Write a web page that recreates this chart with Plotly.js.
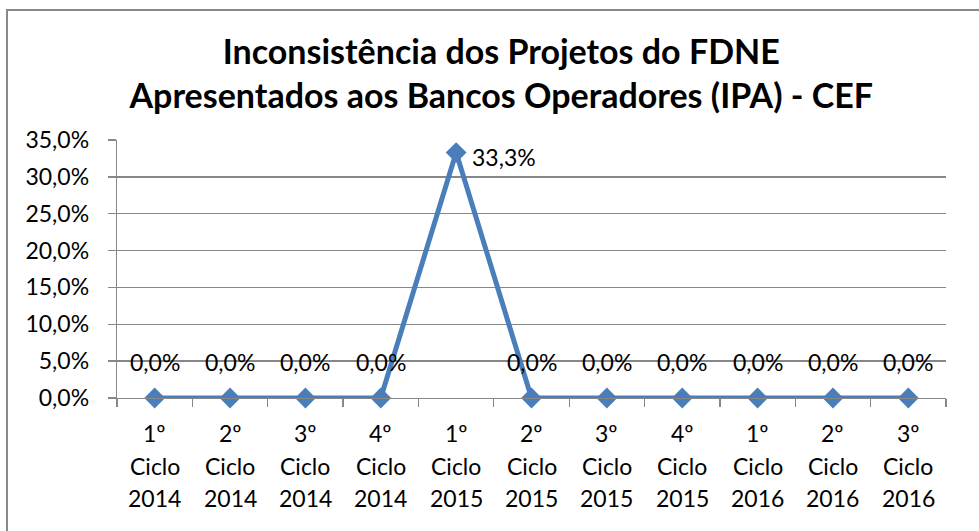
<!DOCTYPE html>
<html>
<head>
<meta charset="utf-8">
<script src="https://cdn.plot.ly/plotly-3.0.1.min.js"></script>
<style>
  html, body { margin: 0; padding: 0; background: #ffffff; }
  #wrap { position: relative; width: 979px; height: 531px; overflow: hidden; }
  #frame { position: absolute; left: 6px; top: 9px; width: 1200px; height: 800px;
           border-top: 2px solid #898989; border-left: 2px solid #898989; pointer-events: none; }
  #chart { position: absolute; left: 0; top: 0; width: 979px; height: 531px; }
</style>
</head>
<body>
<div id="wrap">
  <div id="frame"></div>
  <div id="chart"></div>
</div>
<script>
// ---- data ----
const ordinals = ["1º", "2º", "3º", "4º", "1º", "2º", "3º", "4º", "1º", "2º", "3º"];
const cycleWord = ["Ciclo", "Ciclo", "Ciclo", "Ciclo", "Ciclo", "Ciclo", "Ciclo", "Ciclo", "Ciclo", "Ciclo", "Ciclo"];
const years = ["2014", "2014", "2014", "2014", "2015", "2015", "2015", "2015", "2016", "2016", "2016"];
const values = [0, 0, 0, 0, 0.333, 0, 0, 0, 0, 0, 0];
const yTickVals = [0, 0.05, 0.10, 0.15, 0.20, 0.25, 0.30, 0.35];

const categories = ordinals.map((o, i) => o + " " + cycleWord[i] + " " + years[i]);
const fmtPct = v => (v * 100).toFixed(1).replace(".", ",") + "%";

const FONT = "Lato, 'Noto Sans', sans-serif";
const lineColor = "#4a7ebb";
const gridColor = "#878787";

const trace = {
  type: "scatter",
  mode: "lines+markers",
  x: categories,
  y: values,
  line: { color: lineColor, width: 5 },
  marker: { symbol: "diamond", size: 16, color: lineColor },
  hoverinfo: "x+y",
  cliponaxis: false
};

const annotations = [];
// data labels
values.forEach((v, i) => {
  const isPeak = v === Math.max(...values) && v > 0;
  annotations.push({
    x: categories[i], y: v, xref: "x", yref: "y",
    text: fmtPct(v), showarrow: false,
    font: { family: FONT, size: 23, color: "#000" },
    xanchor: isPeak ? "left" : "center",
    yanchor: "middle",
    xshift: isPeak ? 14 : 0,
    yshift: isPeak ? -4 : 36
  });
});
// category labels (three lines each)
const labelRows = [ordinals, cycleWord, years];
const rowShift = [-35, -68, -100];
labelRows.forEach((row, r) => {
  row.forEach((t, i) => {
    annotations.push({
      x: categories[i], y: 0, xref: "x", yref: "paper",
      text: t, showarrow: false,
      font: { family: FONT, size: 23, color: "#000" },
      xanchor: "center", yanchor: "middle", yshift: rowShift[r]
    });
  });
});

const layout = {
  width: 979, height: 531,
  paper_bgcolor: "rgba(0,0,0,0)",
  plot_bgcolor: "rgba(0,0,0,0)",
  margin: { l: 117, r: 33, t: 140, b: 133 },
  separators: ",.",
  showlegend: false,
  title: {
    text: "<b>Inconsistência dos Projetos do FDNE<br>Apresentados aos Bancos Operadores (IPA) - CEF</b>",
    font: { family: FONT, size: 34, color: "#000" },
    x: 0.512, xanchor: "center",
    y: 0.879, yanchor: "middle"
  },
  xaxis: {
    type: "category",
    range: [-0.5, values.length - 0.5],
    showticklabels: false,
    showgrid: false,
    zeroline: false,
    showline: true, linecolor: gridColor, linewidth: 1.3,
    ticks: "outside", tickson: "boundaries", ticklen: 8, tickcolor: gridColor, tickwidth: 1.3,
    fixedrange: true
  },
  yaxis: {
    range: [0, 0.35],
    tickvals: yTickVals,
    tickformat: ".1%",
    tickfont: { family: FONT, size: 23, color: "#000" },
    showgrid: true, gridcolor: gridColor, gridwidth: 1.3,
    zeroline: false,
    showline: true, linecolor: gridColor, linewidth: 1.3,
    ticks: "outside", ticklen: 8, tickcolor: gridColor, tickwidth: 1.3,
    ticklabelstandoff: 14,
    fixedrange: true
  },
  annotations: annotations
};

Plotly.newPlot("chart", [trace], layout, { displayModeBar: false, staticPlot: true });
</script>
</body>
</html>
